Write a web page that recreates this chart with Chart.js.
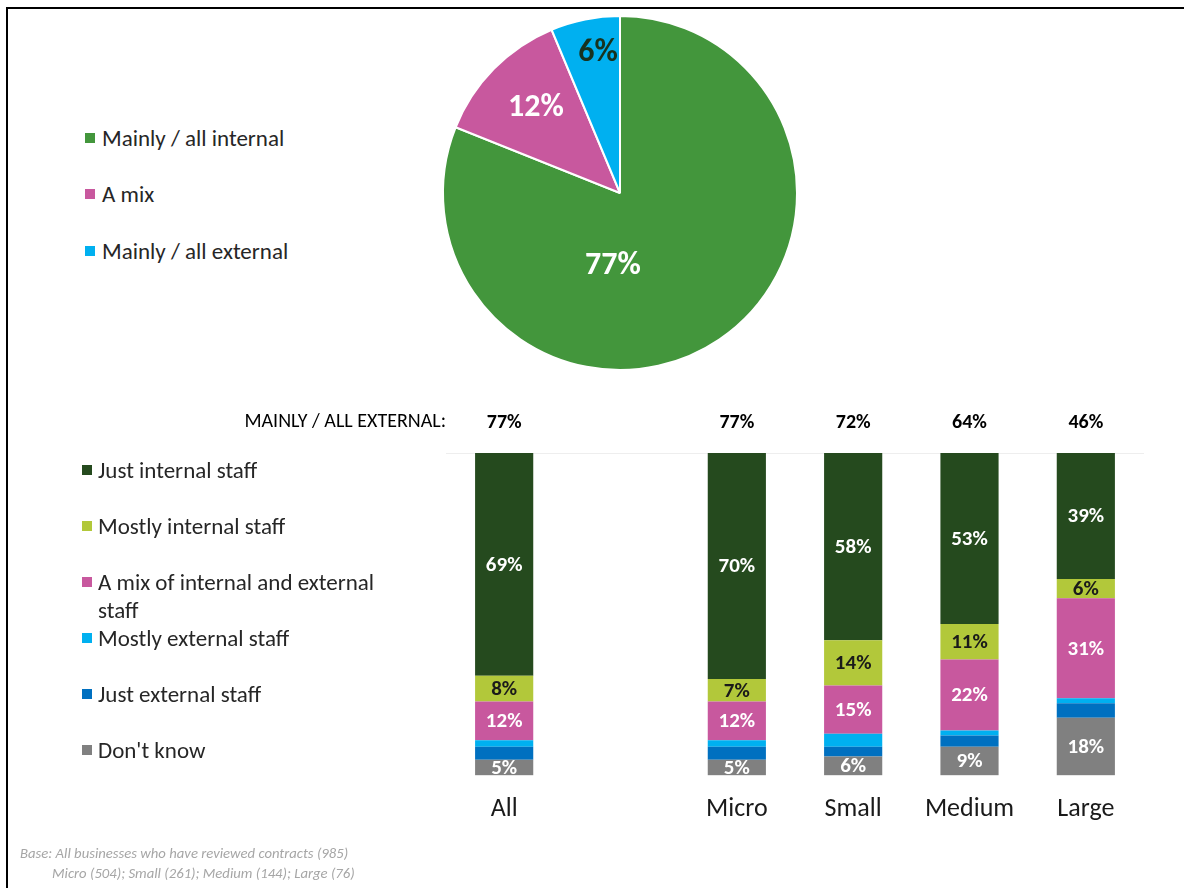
<!DOCTYPE html>
<html>
<head>
<meta charset="utf-8">
<script src="https://cdn.jsdelivr.net/npm/chart.js@4"></script>
<style>
    html, body { margin: 0; padding: 0; background: #fff; overflow: hidden; }
    body { width: 1184px; height: 888px; position: relative; font-family: Calibri, Carlito, Lato, sans-serif; color: #262626; }
    .frame { position: absolute; left: 6px; top: 7px; width: 1200px; height: 900px; border: 2px solid #000; }
    canvas { position: absolute; }
    #pieChart { left: 430px; top: 3px; }
    #barChart { left: 230px; top: 400px; }
    .legend { position: absolute; font-size: 23px; line-height: 28px; }
    .legend .item { position: absolute; white-space: nowrap; }
    .legend .box { position: absolute; width: 10px; height: 10px; top: 9px; }
    .note { position: absolute; left: 20px; top: 843px; font-size: 14.7px; line-height: 20px; font-style: italic; color: #a6a6a6; white-space: nowrap; }
    .note span { padding-left: 32px; }
</style>
</head>
<body>
<div class="frame"></div>
<canvas id="pieChart" width="380" height="380"></canvas>
<canvas id="barChart" width="954" height="462"></canvas>

<div class="legend" id="pieLegend"></div>
<div class="legend" id="barLegend"></div>

<div class="note">Base: All businesses who have reviewed contracts (985)<br><span>Micro (504); Small (261); Medium (144); Large (76)</span></div>

<script>
const FONT = 'Calibri, Carlito, Lato, sans-serif';

// pie: who does the work overall
const pieLabels = ['Mainly / all internal', 'A mix', 'Mainly / all external'];
const pieValues = [77, 12, 6];
const pieColors = ['#43963c', '#c8589e', '#00b0f0'];
const pieLabelColors = ['#ffffff', '#ffffff', '#17331f'];

// stacked bars by business size (blank slot separates "All" from the sizes)
const sizeGroups = ['All', '', 'Micro', 'Small', 'Medium', 'Large'];
const mainlyInternal = [77, null, 77, 72, 64, 46];
const justInternal = [69, null, 70, 58, 53, 39];
const mostlyInternal = [8, null, 7, 14, 11, 6];
const mixStaff = [12, null, 12, 15, 22, 31];
const mostlyExternal = [2, null, 2, 4, 1.5, 1.5];
const justExternal = [4, null, 4, 3, 3.5, 4.5];
const dontKnow = [5, null, 5, 6, 9, 18];

const barSeries = [
    { label: 'Just internal staff', data: justInternal, color: '#254a1e', text: '#ffffff' },
    { label: 'Mostly internal staff', data: mostlyInternal, color: '#b2c83a', text: '#1a1a1a' },
    { label: 'A mix of internal and external staff', data: mixStaff, color: '#c8589e', text: '#ffffff' },
    { label: 'Mostly external staff', data: mostlyExternal, color: '#00b0f0', text: null },
    { label: 'Just external staff', data: justExternal, color: '#0070c0', text: null },
    { label: "Don't know", data: dontKnow, color: '#808080', text: '#ffffff' }
];

// html legends
function buildLegend(el, items, left, tops, boxLeft) {
    items.forEach((it, i) => {
        const div = document.createElement('div');
        div.className = 'item';
        div.style.left = left + 'px';
        div.style.top = tops[i] + 'px';
        div.innerHTML = '<span class="box" style="left:' + (boxLeft - left) + 'px;background:' + it.color + '"></span>' + it.html;
        el.appendChild(div);
    });
}

buildLegend(document.getElementById('pieLegend'),
    pieLabels.map((l, i) => ({ html: l, color: pieColors[i] })),
    102, [124, 180, 237], 85);

buildLegend(document.getElementById('barLegend'),
    barSeries.map(s => ({
        html: s.label === 'A mix of internal and external staff' ? 'A mix of internal and external<br>staff' : s.label,
        color: s.color
    })),
    98, [456, 512, 568, 624, 680, 736], 82);

// pie labels sit at fixed spots relative to the centre (fractions of radius)
const pieLabelSpots = [[-0.04, 0.41], [-0.475, -0.48], [-0.124, -0.79]];

const pieLabelPlugin = {
    id: 'pieLabelPlugin',
    afterDatasetsDraw(chart) {
        const ctx = chart.ctx;
        const arcs = chart.getDatasetMeta(0).data;
        ctx.save();
        ctx.font = 'bold 32px ' + FONT;
        ctx.textAlign = 'center';
        ctx.textBaseline = 'middle';
        arcs.forEach((arc, i) => {
            const r = arc.outerRadius;
            ctx.fillStyle = pieLabelColors[i];
            ctx.fillText(pieValues[i] + '%', arc.x + pieLabelSpots[i][0] * r, arc.y + pieLabelSpots[i][1] * r);
        });
        ctx.restore();
    }
};

new Chart(document.getElementById('pieChart'), {
    type: 'pie',
    data: {
        labels: pieLabels,
        datasets: [{
            data: pieValues,
            backgroundColor: pieColors,
            borderColor: '#ffffff',
            borderWidth: 2
        }]
    },
    options: {
        responsive: false,
        animation: false,
        layout: { padding: 12 },
        plugins: { legend: { display: false }, tooltip: { enabled: false } }
    },
    plugins: [pieLabelPlugin]
});

// value labels inside the segments, clipped to the plot
const segmentLabels = {
    id: 'segmentLabels',
    afterDatasetsDraw(chart) {
        const { ctx, chartArea } = chart;
        ctx.save();
        ctx.beginPath();
        ctx.rect(chartArea.left, chartArea.top, chartArea.right - chartArea.left, chartArea.bottom - chartArea.top);
        ctx.clip();
        ctx.font = 'bold 21px ' + FONT;
        ctx.textAlign = 'center';
        ctx.textBaseline = 'middle';
        chart.data.datasets.forEach((ds, di) => {
            if (!ds.labelColor) return;
            chart.getDatasetMeta(di).data.forEach((bar, i) => {
                const v = ds.data[i];
                if (v == null) return;
                ctx.fillStyle = ds.labelColor;
                ctx.fillText(v + '%', bar.x, (bar.y + bar.base) / 2 + 1);
            });
        });
        ctx.restore();
    }
};

// header row with the "mainly / all" totals
const headerRow = {
    id: 'headerRow',
    afterDraw(chart) {
        const { ctx, chartArea } = chart;
        const x = chart.scales.x;
        ctx.save();
        ctx.textBaseline = 'middle';
        ctx.fillStyle = '#000000';
        ctx.font = '20px ' + FONT;
        ctx.textAlign = 'right';
        ctx.fillText('MAINLY / ALL EXTERNAL:', chartArea.left, 22);
        ctx.font = 'bold 20px ' + FONT;
        ctx.textAlign = 'center';
        mainlyInternal.forEach((v, i) => {
            if (v == null) return;
            ctx.fillText(v + '%', x.getPixelForValue(i), 23);
        });
        ctx.restore();
    }
};

new Chart(document.getElementById('barChart'), {
    type: 'bar',
    data: {
        labels: sizeGroups,
        datasets: barSeries.slice().reverse().map(s => ({
            label: s.label,
            data: s.data,
            backgroundColor: s.color,
            labelColor: s.text,
            borderWidth: 0,
            categoryPercentage: 1,
            barPercentage: 0.5
        }))
    },
    options: {
        responsive: false,
        animation: false,
        layout: { padding: { left: 216, right: 40, top: 53, bottom: 19 } },
        scales: {
            x: {
                stacked: true,
                grid: { display: false, drawTicks: false },
                border: { display: false },
                ticks: { color: '#1a1a1a', font: { family: FONT, size: 26 }, padding: 18 }
            },
            y: {
                stacked: true,
                min: 0,
                max: 100,
                ticks: { display: false },
                grid: {
                    drawTicks: false,
                    color: ctx => ctx.tick && ctx.tick.value === 100 ? '#eeeeee' : 'rgba(0,0,0,0)'
                },
                border: { display: false }
            }
        },
        plugins: { legend: { display: false }, tooltip: { enabled: false } }
    },
    plugins: [segmentLabels, headerRow]
});
</script>
</body>
</html>
